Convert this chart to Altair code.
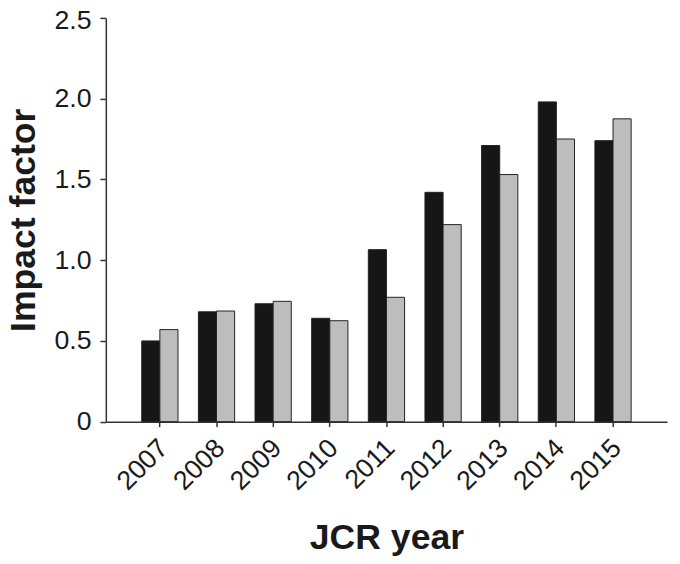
import altair as alt
import pandas as pd

years = ["2007", "2008", "2009", "2010", "2011", "2012", "2013", "2014", "2015"]
series_a = [0.50, 0.68, 0.73, 0.64, 1.065, 1.42, 1.71, 1.98, 1.74]
series_b = [0.57, 0.685, 0.745, 0.625, 0.77, 1.22, 1.53, 1.75, 1.875]
series_names = ["Series A", "Series B"]
y_ticks = [0, 0.5, 1.0, 1.5, 2.0, 2.5]

rows = []
for i, y in enumerate(years):
    rows.append({"year": y, "series": series_names[0], "value": series_a[i]})
    rows.append({"year": y, "series": series_names[1], "value": series_b[i]})
df = pd.DataFrame(rows)

FONT = "Liberation Sans"
W, H = 568, 408.6

chart = alt.Chart(df).mark_bar(stroke="#222222", strokeWidth=1).encode(
    x=alt.X("year:N", sort=years,
            scale=alt.Scale(paddingInner=0.36, paddingOuter=0.634),
            axis=alt.Axis(title="JCR year", labelAngle=-45, labelAlign="right",
                          labelBaseline="top", labelPadding=8, labelOffset=-5,
                          labelFontSize=27,
                          labelFont=FONT, labelColor="#1a1a1a",
                          tickSize=5, tickColor="#333333", tickWidth=1.5,
                          domainColor="#333333", domainWidth=1.5,
                          titleFont=FONT, titleFontSize=36, titleFontWeight="bold",
                          titleColor="#1a1a1a", titleX=W / 2, titleY=128.4,
                          titleBaseline="alphabetic", titleAlign="center",
                          grid=False)),
    xOffset=alt.XOffset("series:N", sort=series_names,
                        scale=alt.Scale(paddingInner=0, paddingOuter=0)),
    y=alt.Y("value:Q",
            scale=alt.Scale(domain=[0, 2.5], nice=False, zero=True),
            axis=alt.Axis(title="Impact factor", values=y_ticks,
                          labelExpr="datum.value == 0 ? '0' : format(datum.value, '.1f')",
                          labelFontSize=27, labelFont=FONT, labelColor="#1a1a1a",
                          labelPadding=9,
                          labelOffset=alt.condition("datum.value == 2.5", alt.value(3), alt.value(0)),
                          tickSize=6, tickColor="#333333", tickWidth=1.5,
                          domainColor="#333333", domainWidth=1.5,
                          titleFont=FONT, titleFontSize=36, titleFontWeight="bold",
                          titleColor="#1a1a1a", titleX=-72, titleY=H / 2,
                          titleBaseline="alphabetic", titleAlign="center", titleAngle=-90,
                          grid=False)),
    color=alt.Color("series:N", sort=series_names,
                    scale=alt.Scale(domain=series_names, range=["#161616", "#bdbdbd"]),
                    legend=None),
).properties(
    width=W, height=H,
    autosize=alt.AutoSizeParams(type="none"),
    padding={"left": 99, "top": 6.7, "right": 5, "bottom": 137},
).configure_view(stroke=None)

chart.save("out.html", embed_options={"renderer": "svg", "actions": False})
